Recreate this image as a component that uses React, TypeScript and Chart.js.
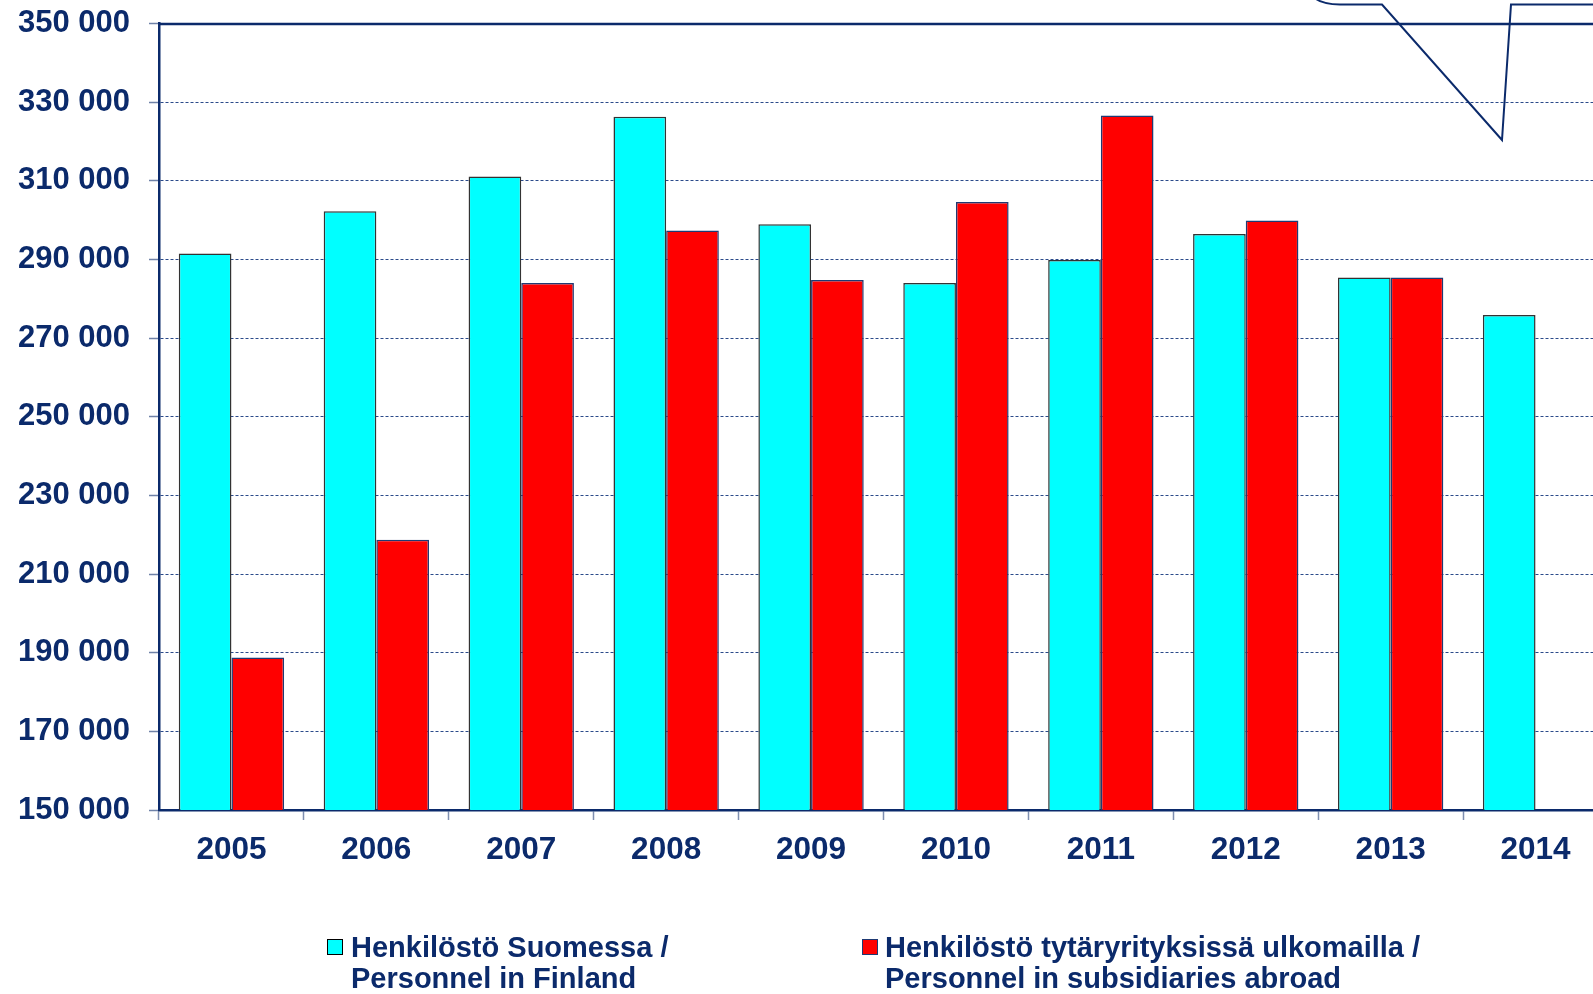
import React, { useEffect, useRef } from "react";
import { Chart, registerables } from "chart.js";

Chart.register(...registerables);

const years = ["2005", "2006", "2007", "2008", "2009", "2010", "2011", "2012", "2013", "2014"];
const personnelFinland = [291500, 302300, 311100, 326300, 299000, 284000, 289900, 296500, 285400, 275900];
const personnelAbroad: (number | null)[] = [188800, 218700, 284000, 297400, 284800, 304600, 326600, 299900, 285400, null];
const labelFinland = ["Henkilöstö Suomessa /", "Personnel in Finland"];
const labelAbroad = ["Henkilöstö tytäryrityksissä ulkomailla /", "Personnel in subsidiaries abroad"];
const yMin = 150000;
const yMax = 350000;
const yStep = 20000;

const NAVY = "#0B2A6B";
const CYAN = "#00FFFF";
const RED = "#FF0000";
const FONT = "'Liberation Sans', Arial, sans-serif";
const SHIFT = 14; // canvas is moved up by this much

const fmt = (v: number) => String(v).replace(/\B(?=(\d{3})+(?!\d))/g, " ");

const decorPlugin = {
  id: "decor",
  afterDraw(chart: any) {
    const ctx = chart.ctx;
    const a = chart.chartArea;
    ctx.save();
    // solid top border of plot area
    ctx.strokeStyle = NAVY;
    ctx.lineWidth = 2.5;
    ctx.beginPath();
    ctx.moveTo(a.left - 1, a.top + 0.5);
    ctx.lineTo(chart.width, a.top + 0.5);
    ctx.stroke();
    // callout outline (mostly outside the picture, above)
    ctx.lineWidth = 2;
    ctx.beginPath();
    ctx.moveTo(1314, -2 + SHIFT);
    ctx.quadraticCurveTo(1324, 4.5 + SHIFT, 1340, 4.5 + SHIFT);
    ctx.lineTo(1382, 4.5 + SHIFT);
    ctx.lineTo(1502, 140 + SHIFT);
    ctx.lineTo(1511, 4.5 + SHIFT);
    ctx.lineTo(chart.width + 5, 4.5 + SHIFT);
    ctx.stroke();
    ctx.restore();
  },
};

export default function App() {
  const ref = useRef<HTMLCanvasElement>(null);

  useEffect(() => {
    if (!ref.current) return;
    const chart = new Chart(ref.current, {
      type: "bar",
      data: {
        labels: years,
        datasets: [
          {
            label: labelFinland.join(" "),
            data: personnelFinland,
            backgroundColor: CYAN,
            borderColor: "#333333",
            borderWidth: 1.5,
            categoryPercentage: 0.727,
            barPercentage: 1,
          },
          {
            label: labelAbroad.join(" "),
            data: personnelAbroad,
            backgroundColor: RED,
            borderColor: "#1F3A73",
            borderWidth: 1.5,
            categoryPercentage: 0.727,
            barPercentage: 1,
          },
        ],
      },
      options: {
        responsive: false,
        animation: false,
        devicePixelRatio: 1,
        layout: { padding: { top: 6, right: 2, left: 0, bottom: 0 } },
        plugins: {
          legend: { display: false },
          tooltip: { enabled: false },
        },
        scales: {
          x: {
            offset: true,
            grid: {
              offset: true,
              drawOnChartArea: false,
              drawTicks: true,
              tickLength: 10,
              tickColor: "#7F8FB0",
              tickWidth: 1.5,
            },
            border: { color: NAVY, width: 2.5 },
            ticks: {
              color: NAVY,
              font: { family: FONT, size: 31.5, weight: "bold" },
              padding: 11,
              maxRotation: 0,
              autoSkip: false,
            },
            afterFit: (s: any) => {
              s.height = 184;
            },
          },
          y: {
            min: yMin,
            max: yMax,
            ticks: {
              stepSize: yStep,
              color: NAVY,
              font: { family: FONT, size: 31, weight: "bold" },
              padding: 19,
              callback: (v: any) => fmt(Number(v)),
            },
            grid: {
              color: (c: any) => (c.tick && c.tick.value === yMax ? "rgba(0,0,0,0)" : "#2B4A8A"),
              lineWidth: 1,
              drawTicks: true,
              tickLength: 10,
              tickColor: "#6F82A8",
              tickWidth: 1.5,
            },
            border: { color: NAVY, width: 2.5, dash: [3, 2] },
            afterFit: (s: any) => {
              s.width = 159;
            },
          },
        },
      },
      plugins: [decorPlugin],
    });
    return () => chart.destroy();
  }, []);

  const legendItems = [
    { lines: labelFinland, color: CYAN, border: "#000000", boxLeft: 327, textLeft: 351 },
    { lines: labelAbroad, color: RED, border: "#1F3A73", boxLeft: 862, textLeft: 885 },
  ];

  return (
    <div
      style={{
        position: "fixed",
        left: 0,
        top: 0,
        width: 1593,
        height: 994,
        overflow: "hidden",
        background: "#ffffff",
      }}
    >
      <canvas
        ref={ref}
        width={1610}
        height={994 + SHIFT}
        style={{ position: "absolute", left: 0, top: -SHIFT }}
      />
      {legendItems.map((it, i) => (
        <React.Fragment key={i}>
          <div
            style={{
              position: "absolute",
              left: it.boxLeft,
              top: 939,
              width: 14,
              height: 14,
              background: it.color,
              border: `1.5px solid ${it.border}`,
            }}
          />
          <div
            style={{
              position: "absolute",
              left: it.textLeft,
              top: 931.5,
              font: `bold 29px ${FONT}`,
              lineHeight: "31px",
              color: NAVY,
              whiteSpace: "nowrap",
            }}
          >
            {it.lines.map((l, j) => (
              <div key={j}>{l}</div>
            ))}
          </div>
        </React.Fragment>
      ))}
    </div>
  );
}
